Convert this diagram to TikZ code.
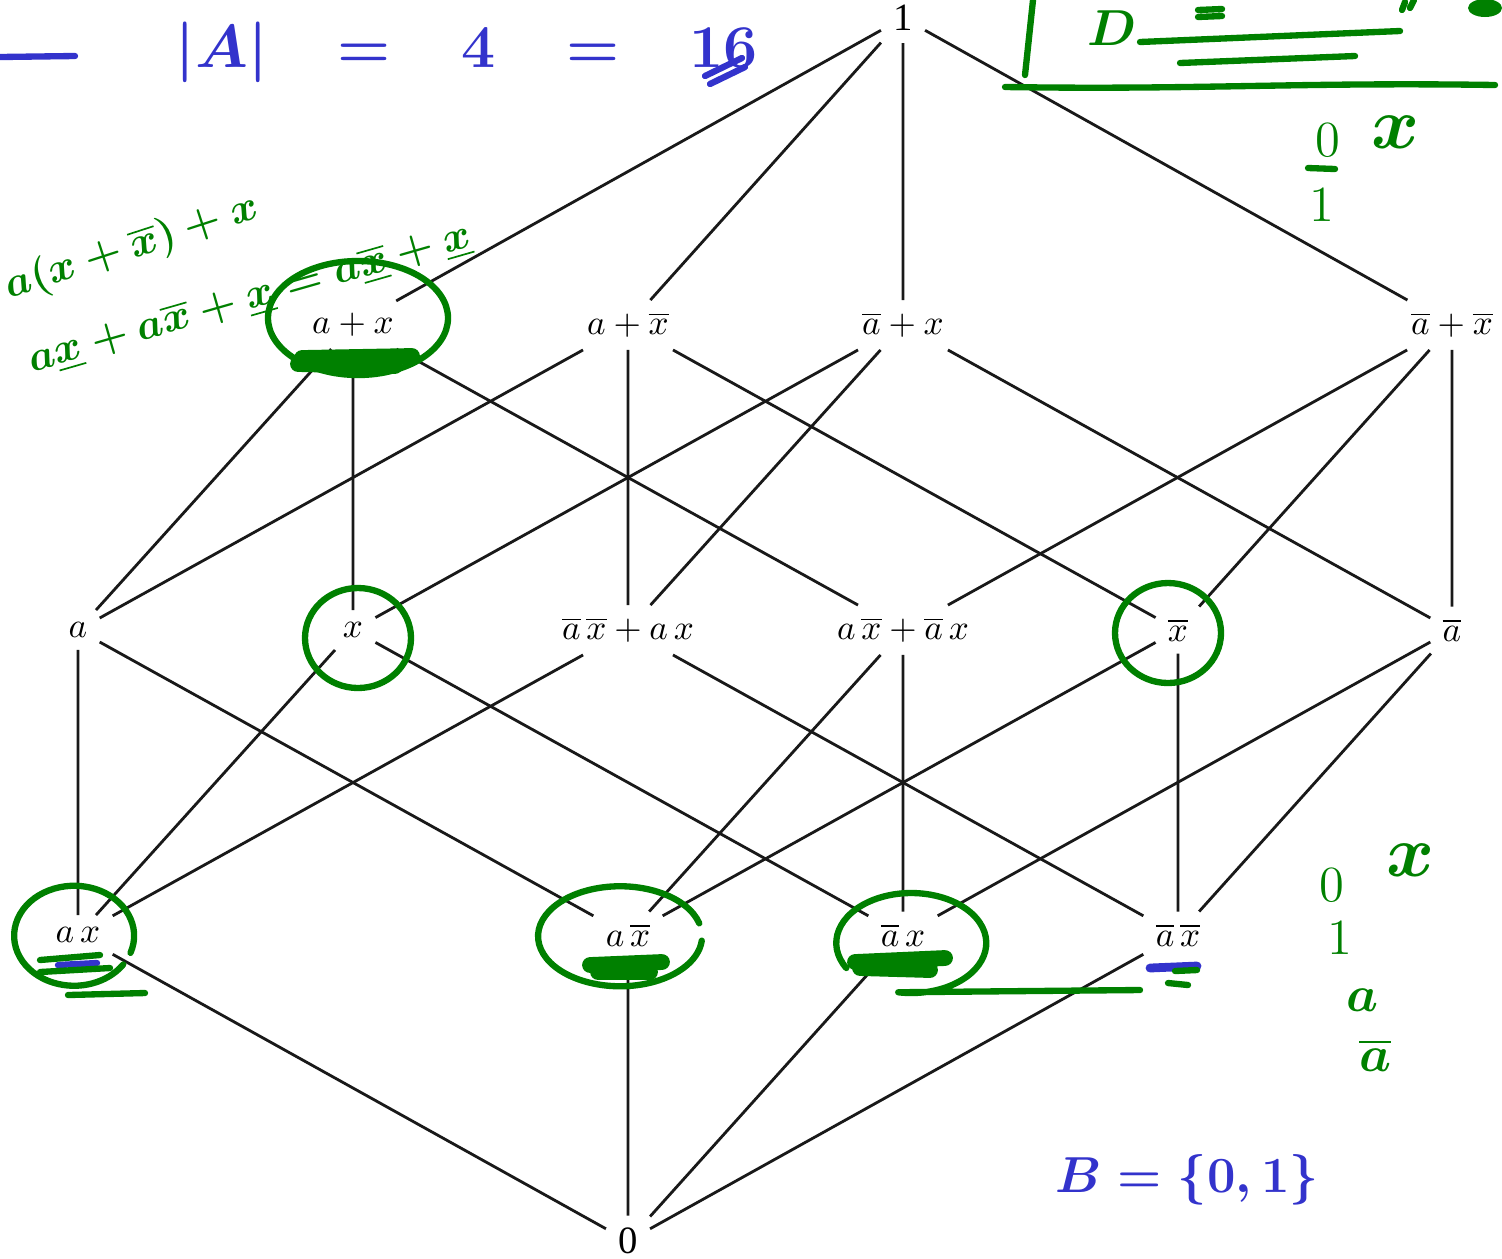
\documentclass[tikz,border=0pt]{standalone}
\usepackage{amsmath}
\usepackage{fontspec}
\newfontfamily\digitfont{Liberation Serif}
\usetikzlibrary{positioning,calc}
\definecolor{inkgreen}{RGB}{0,128,0}
\definecolor{inkblue}{RGB}{51,51,204}

\begin{document}
\begin{tikzpicture}[
elem/.style={inner sep=3.33pt,font=\normalsize},
bound/.style={elem,font=\fontsize{11}{13}\selectfont\digitfont},
edge/.style={draw=black!90,line width=0.8pt},
ink/.style={draw=inkgreen,line width=1.8pt,line cap=round,line join=round},
bink/.style={ink,draw=inkblue},
blot/.style={ink,line width=4.5pt},
hw/.style={text=inkgreen,font=\Large\boldmath,inner sep=0pt},
bhw/.style={hw,text=inkblue},
note/.style={hw,font=\fontsize{13}{16}\selectfont\boldmath}]
\useasboundingbox (0,0) rectangle (15.02,-12.58);
% top and bottom
\node[bound] (one) at (9.03,-0.18) {1};
\node[bound] (zero) at (6.28,-12.41) {0};
% coatoms
\node[elem] (apx) at (3.53,-3.25) {$a+x$};
\node[elem] (apnx) at (6.28,-3.25) {$a+\overline{x}$};
\node[elem] (napx) at (9.03,-3.25) {$\overline{a}+x$};
\node[elem] (napnx) at (14.52,-3.25) {$\overline{a}+\overline{x}$};
% middle row
\node[elem] (a) at (0.78,-6.30) {$a$};
\node[elem] (x) at (3.53,-6.30) {$x$};
\node[elem] (eqv) at (6.28,-6.30) {$\overline{a}\,\overline{x}+a\,x$};
\node[elem] (xor) at (9.03,-6.30) {$a\,\overline{x}+\overline{a}\,x$};
\node[elem] (nx) at (11.78,-6.30) {$\overline{x}$};
\node[elem] (na) at (14.52,-6.30) {$\overline{a}$};
% atoms
\node[elem] (ax) at (0.78,-9.35) {$a\,x$};
\node[elem] (anx) at (6.28,-9.35) {$a\,\overline{x}$};
\node[elem] (nax) at (9.03,-9.35) {$\overline{a}\,x$};
\node[elem] (nanx) at (11.78,-9.35) {$\overline{a}\,\overline{x}$};
% covering relations
\draw[edge] (one)--(apx) (one)--(apnx) (one)--(napx) (one)--(napnx);
\draw[edge] (apx)--(a) (apx)--(x) (apx)--(xor);
\draw[edge] (apnx)--(a) (apnx)--(eqv) (apnx)--(nx);
\draw[edge] (napx)--(x) (napx)--(eqv) (napx)--(na);
\draw[edge] (napnx)--(xor) (napnx)--(nx) (napnx)--(na);
\draw[edge] (a)--(ax) (a)--(anx);
\draw[edge] (x)--(ax) (x)--(nax);
\draw[edge] (eqv)--(ax) (eqv)--(nanx);
\draw[edge] (xor)--(anx) (xor)--(nax);
\draw[edge] (nx)--(anx) (nx)--(nanx);
\draw[edge] (na)--(nax) (na)--(nanx);
\draw[edge] (ax)--(zero) (anx)--(zero) (nax)--(zero) (nanx)--(zero);
% handwritten notes, blue
\draw[bink] (0,-0.57)--(0.75,-0.56);
\node[bhw,font=\fontsize{18}{22}\selectfont\boldmath] (card) at (4.67,-0.52)
{$|A|\enspace\;=\enspace\;4\enspace\;=\enspace\;16$};
\draw[bink] (7.05,-0.76)--(7.42,-0.58) (7.10,-0.84)--(7.45,-0.67);
\node[bhw] (bset) at (11.87,-11.80) {$B=\{0,1\}$};
% handwritten notes, green
\draw[ink] (10.33,0)--(10.25,-0.75);
\draw[ink] (10.05,-0.87) .. controls (12,-0.90) and (13,-0.82) .. (14.95,-0.85);
\node[hw] (dee) at (11.12,-0.28) {$D$};
\draw[ink] (11.98,-0.10)--(12.22,-0.09) (11.98,-0.17)--(12.22,-0.16);
\draw[ink] (11.40,-0.42)--(14.00,-0.31);
\draw[ink] (11.80,-0.63)--(13.55,-0.56);
\draw[ink] (14.02,-0.10)--(14.05,-0.02) (14.10,-0.08)--(14.14,0);
\fill[inkgreen] (14.85,-0.08) ellipse (0.17 and 0.09);
\node[hw] (tz) at (13.28,-1.40) {0};
\node[hw,font=\huge\boldmath] (tx) at (13.95,-1.32) {$x$};
\draw[ink] (13.08,-1.68)--(13.35,-1.69);
\node[hw] (tone) at (13.22,-2.05) {1};
\node[hw] (bz) at (13.32,-8.85) {0};
\node[hw,font=\huge\boldmath] (bx) at (14.10,-8.60) {$x$};
\node[hw] (bone) at (13.40,-9.38) {1};
\node[hw] (ba) at (13.62,-10.00) {$a$};
\node[hw] (bna) at (13.75,-10.55) {$\overline{a}$};
\node[note,rotate=18] (expand) at (1.32,-2.48) {$a(x+\overline{x})+x$};
\node[note,rotate=16] (simpl) at (2.50,-3.00)
{$a\underline{x}+a\overline{x}+\underline{x}=a\overline{\underline{x}}+\underline{x}$};
% circled elements
\draw[ink] ([shift={(0.05,0.07)}]apx.center) ellipse [x radius=0.90,y radius=0.57];
\draw[blot] (3.02,-3.58)--(4.12,-3.56) (2.98,-3.64)--(3.95,-3.66);
\draw[ink] ([shift={(0.05,-0.08)}]x.center) ellipse [x radius=0.53,y radius=0.50];
\draw[ink] ([shift={(-0.10,-0.03)}]nx.center) ellipse [x radius=0.53,y radius=0.50];
\draw[ink] ([shift={(-0.02,0.02)}]ax.center) ++(-20:0.58)
arc [start angle=-20,end angle=325,x radius=0.60,y radius=0.50];
\draw[bink] (0.58,-9.65)--(0.97,-9.63);
\draw[ink] (0.40,-9.60)--(1.00,-9.55) (0.40,-9.72)--(1.10,-9.68) (0.68,-9.95)--(1.45,-9.93);
\draw[ink] ([shift={(-0.06,-0.09)}]anx.center) ++(15:0.80)
arc [start angle=15,end angle=355,x radius=0.82,y radius=0.50];
\draw[blot] (5.90,-9.65)--(6.62,-9.62) (5.98,-9.72)--(6.50,-9.72);
\draw[ink] ([shift={(-0.03,-0.02)}]nax.center) ++(210:0.62)
arc [start angle=210,end angle=-100,x radius=0.75,y radius=0.50] -- (11.40,-9.90);
\draw[bink] (8.80,-9.72)--(9.10,-9.72);
\draw[blot] (8.55,-9.62)--(9.45,-9.58) (8.60,-9.68)--(9.30,-9.70);
\draw[bink,line width=2.5pt] (11.50,-9.68)--(11.97,-9.66);
\draw[ink] (11.75,-9.71)--(11.97,-9.70) (11.68,-9.83)--(11.88,-9.85);
\end{tikzpicture}
\end{document}
